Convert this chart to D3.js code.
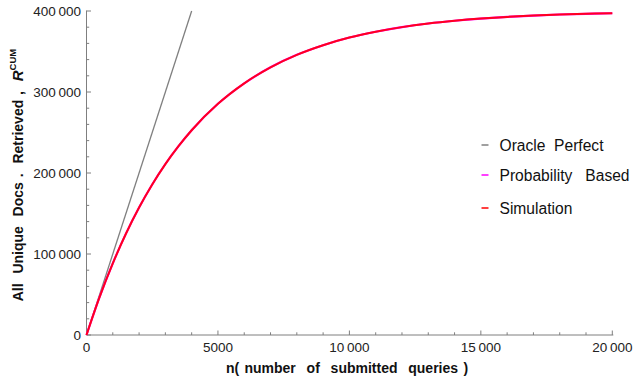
<!DOCTYPE html>
<html>
<head>
<meta charset="utf-8">
<script src="https://cdn.jsdelivr.net/npm/d3@7"></script>
<style>
  body { margin: 0; background: #fff; }
  svg { display: block; font-family: "Liberation Sans", Arial, sans-serif; }
</style>
</head>
<body>
<svg id="chart" width="634" height="381"></svg>
<script>
// queries submitted (x) and cumulative unique docs (y)
const queries = [0, 500, 1000, 1500, 2000, 2500, 3000, 3500, 4000, 5000, 6000, 7000, 8000,
  9000, 10000, 11000, 12000, 13000, 14000, 15000, 16000, 17000, 18000, 19000, 20000];
const probabilityBased = [0, 47000, 88500, 125100, 157400, 185900, 211100, 233200, 252800,
  285400, 310700, 330500, 345900, 357800, 367200, 374400, 380100, 384500, 387900, 390600,
  392700, 394300, 395600, 396500, 397300];
const simulation = [0, 47000, 88400, 125000, 157300, 185800, 211000, 233100, 252800,
  285400, 310700, 330500, 345900, 357800, 367200, 374400, 380100, 384500, 387900, 390600,
  392700, 394300, 395600, 396500, 397300];
const oracleQueries = [0, 4000];
const oracleDocs = [0, 400000];

const xTicks = [0, 5000, 10000, 15000, 20000];
const yTicks = [0, 100000, 200000, 300000, 400000];
const legendLabels = ["Oracle  Perfect", "Probability   Based", "Simulation"];
const legendColors = ["#808080", "#ff00ff", "#ff0000"];

const svg = d3.select("#chart");
svg.append("rect").attr("width", 634).attr("height", 381).attr("fill", "#fff");

const x = d3.scaleLinear().domain([0, 20000]).range([86.5, 612.3]);
const y = d3.scaleLinear().domain([0, 400000]).range([335, 11]);

// thin-space grouped numbers like "400 000"
const fmt = d => d >= 10000 ? d3.format(",")(d).replace(/,/g, "\u2009") : String(d);

// minor ticks
const xMinor = d3.range(0, 20001, 1000).filter(d => d % 5000 !== 0);
const yMinor = d3.range(0, 400001, 20000).filter(d => d % 100000 !== 0);

const axisColor = "#7f7f7f";

// x axis
const gx = svg.append("g");
gx.append("line").attr("x1", x(0)).attr("x2", x(20000) + 1)
  .attr("y1", y(0)).attr("y2", y(0)).attr("stroke", axisColor).attr("stroke-width", 1);
gx.selectAll("line.major").data(xTicks).enter().append("line")
  .attr("x1", d => x(d)).attr("x2", d => x(d))
  .attr("y1", y(0)).attr("y2", y(0) - 4.5)
  .attr("stroke", axisColor);
gx.selectAll("line.minor").data(xMinor).enter().append("line")
  .attr("x1", d => x(d)).attr("x2", d => x(d))
  .attr("y1", y(0)).attr("y2", y(0) - 2.7)
  .attr("stroke", axisColor);
gx.selectAll("text").data(xTicks).enter().append("text")
  .attr("x", d => x(d)).attr("y", 352)
  .attr("text-anchor", "middle").attr("font-size", 13.5).attr("fill", "#222")
  .text(fmt);

// y axis
const gy = svg.append("g");
gy.append("line").attr("x1", x(0)).attr("x2", x(0))
  .attr("y1", y(0)).attr("y2", y(400000) - 0.5).attr("stroke", axisColor);
gy.selectAll("line.major").data(yTicks).enter().append("line")
  .attr("x1", x(0)).attr("x2", x(0) + 4.5)
  .attr("y1", d => y(d)).attr("y2", d => y(d))
  .attr("stroke", axisColor);
gy.selectAll("line.minor").data(yMinor).enter().append("line")
  .attr("x1", x(0)).attr("x2", x(0) + 2.7)
  .attr("y1", d => y(d)).attr("y2", d => y(d))
  .attr("stroke", axisColor);
gy.selectAll("text").data(yTicks).enter().append("text")
  .attr("x", 81).attr("y", d => y(d) + 4.8)
  .attr("text-anchor", "end").attr("font-size", 13.5).attr("fill", "#222")
  .text(fmt);

// lines
const line = (xs, ys) => d3.line()
  .x((d, i) => x(xs[i])).y(d => y(d))
  .curve(d3.curveMonotoneX)(ys);

svg.append("path").attr("d", line(oracleQueries, oracleDocs))
  .attr("fill", "none").attr("stroke", legendColors[0]).attr("stroke-width", 1.3);
svg.append("path").attr("d", line(queries, probabilityBased))
  .attr("fill", "none").attr("stroke", legendColors[1]).attr("stroke-width", 2.1);
svg.append("path").attr("d", line(queries, simulation))
  .attr("fill", "none").attr("stroke", "#ff0020").attr("stroke-width", 2);

// legend
const legY = [145, 175, 208];
const leg = svg.append("g");
leg.selectAll("line").data(legendLabels).enter().append("line")
  .attr("x1", 481.5).attr("x2", 488.5)
  .attr("y1", (d, i) => legY[i]).attr("y2", (d, i) => legY[i])
  .attr("stroke", (d, i) => legendColors[i]).attr("stroke-width", 1.5);
leg.selectAll("text").data(legendLabels).enter().append("text")
  .attr("x", 499.5).attr("y", (d, i) => legY[i] + 5.5)
  .attr("font-size", 15.6).attr("fill", "#111")
  .style("white-space", "pre")
  .text(d => d);

// axis titles
svg.append("text")
  .attr("x", 347).attr("y", 373)
  .attr("text-anchor", "middle").attr("font-size", 14).attr("font-weight", "bold")
  .attr("fill", "#111").style("white-space", "pre").attr("word-spacing", 1.5)
  .text("n( number  of  submitted  queries )");

const yt = svg.append("text")
  .attr("transform", "translate(23,175) rotate(-90)")
  .attr("text-anchor", "middle").attr("font-size", 14).attr("font-weight", "bold")
  .attr("fill", "#111").style("white-space", "pre").attr("word-spacing", 1);
yt.append("tspan").text("All  Unique  Docs .  Retrieved ,  ");
yt.append("tspan").attr("font-style", "italic").attr("font-size", 15).text("R");
yt.append("tspan").attr("font-size", 9.5).attr("dy", -7).text("CUM");
</script>
</body>
</html>
